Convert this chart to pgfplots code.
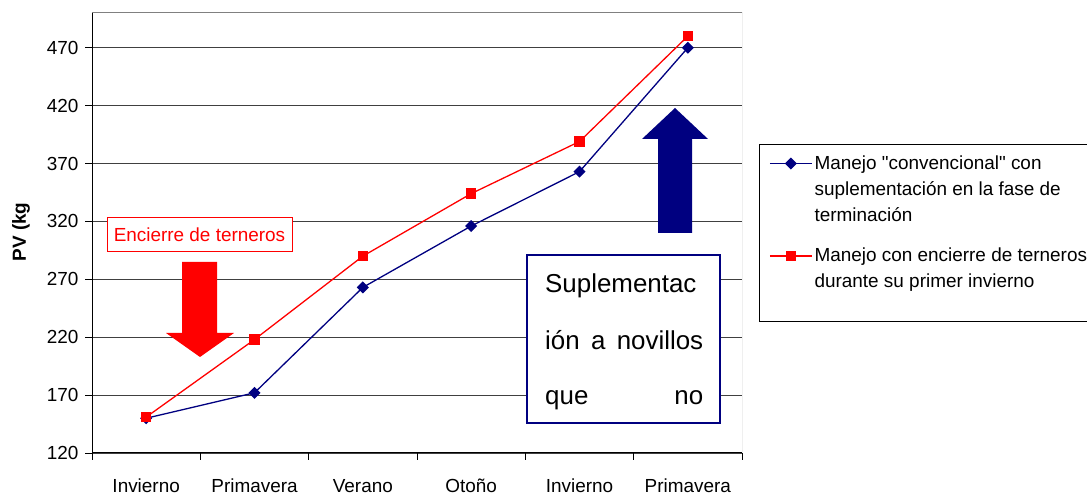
\documentclass[border=0pt]{standalone}
\usepackage{fontspec}
\setmainfont{Liberation Sans}[Ligatures=TeXOff]
\usepackage{pgfplots}
\pgfplotsset{compat=1.18}
\definecolor{navyc}{RGB}{0,0,128}
\definecolor{redc}{RGB}{255,0,0}
\pgfplotsset{
 legup/.style={legend image code/.code={\draw[##1] (-3bp,#1) -- (39bp,#1); \draw[##1, only marks] plot coordinates {(18bp,#1)};}},
}
\begin{document}
\fontsize{19}{23}\selectfont
\begin{tikzpicture}[x=1bp,y=1bp]
\begin{axis}[
 at={(92bp,43bp)}, anchor=south west,
 scale only axis, width=650bp, height=440bp,
 xmin=-0.5, xmax=5.5, ymin=120, ymax=500,
 axis x line*=bottom, axis y line*=left,
 axis line style={black, line width=1bp},
 xtick={-0.5,0.5,1.5,2.5,3.5,4.5,5.5},
 xticklabels={},
 x tick style={draw=black, line width=0.8bp},
 extra x ticks={0,1,2,3,4,5},
 extra x tick labels={Invierno,Primavera,Verano,Otoño,Invierno,Primavera},
 extra x tick style={major tick length=0bp, tick style={draw=none}},
 ytick={120,170,220,270,320,370,420,470},
 tick align=outside, major tick length=7bp,
 y tick style={black, line width=0.8bp},
 ymajorgrids, grid style={black!75, line width=0.8bp},
 xticklabel style={anchor=base, yshift=-40bp},
 /pgf/number format/assume math mode=true,
 legend style={draw=none, fill=none, at={(1.037,0.686)}, anchor=north west, row sep=19bp,
   font=\fontsize{19}{26.5}\selectfont},
 legend cell align=left,
]
\addplot[navyc, line width=1.3bp, mark=square*, mark size=3.6bp, mark options={rotate=45, fill=navyc}, legup=26.5bp]
 coordinates {(0,150) (1,172) (2,263) (3,316) (4,363) (5,470)};
\addlegendentry[align=left]{Manejo "convencional" con\\suplementación en la fase de\\terminación}
\addplot[redc, line width=1.3bp, mark=square*, mark size=4.5bp, mark options={fill=redc}, legup=13.25bp]
 coordinates {(0,151) (1,218) (2,290) (3,344) (4,389) (5,480)};
\addlegendentry[align=left]{Manejo con encierre de terneros\\durante su primer invierno}
\draw[gray, line width=1bp] (rel axis cs:0,1) -- (rel axis cs:1,1) -- (rel axis cs:1,0);
\end{axis}
% y label
\node[rotate=90, font=\bfseries] at (21,264) {PV (kg};
% Encierre box
\node[draw=redc, fill=white, text=redc, line width=1bp, minimum width=185bp, minimum height=34bp, inner sep=0pt] at (199.5,261) {Encierre de terneros};
% red arrow
\fill[redc] (182,234)--(217,234)--(217,163)--(234,163)--(200,139)--(166,163)--(182,163)--cycle;
% blue arrow
\fill[navyc] (658,263)--(692,263)--(692,357)--(708,357)--(675,388)--(642,357)--(658,357)--cycle;
% Suplementacion box
\draw[navyc, fill=white, line width=2bp] (527,241) rectangle (720,73);
\begin{scope}[font=\fontsize{26}{30}\selectfont]
\node[anchor=base west, inner sep=0pt] at (545,203) {Suplementac};
\node[anchor=base west, inner sep=0pt] at (545,146) {\makebox[158bp][s]{ión a novillos}};
\node[anchor=base west, inner sep=0pt] at (545,91) {\makebox[158bp][s]{que\hfill no}};
\end{scope}
% legend frame
\draw[black, line width=1bp] (759,351) rectangle (1100,174);
\pgfresetboundingbox
\useasboundingbox (0,0) rectangle (1087,496);
\end{tikzpicture}
\end{document}
